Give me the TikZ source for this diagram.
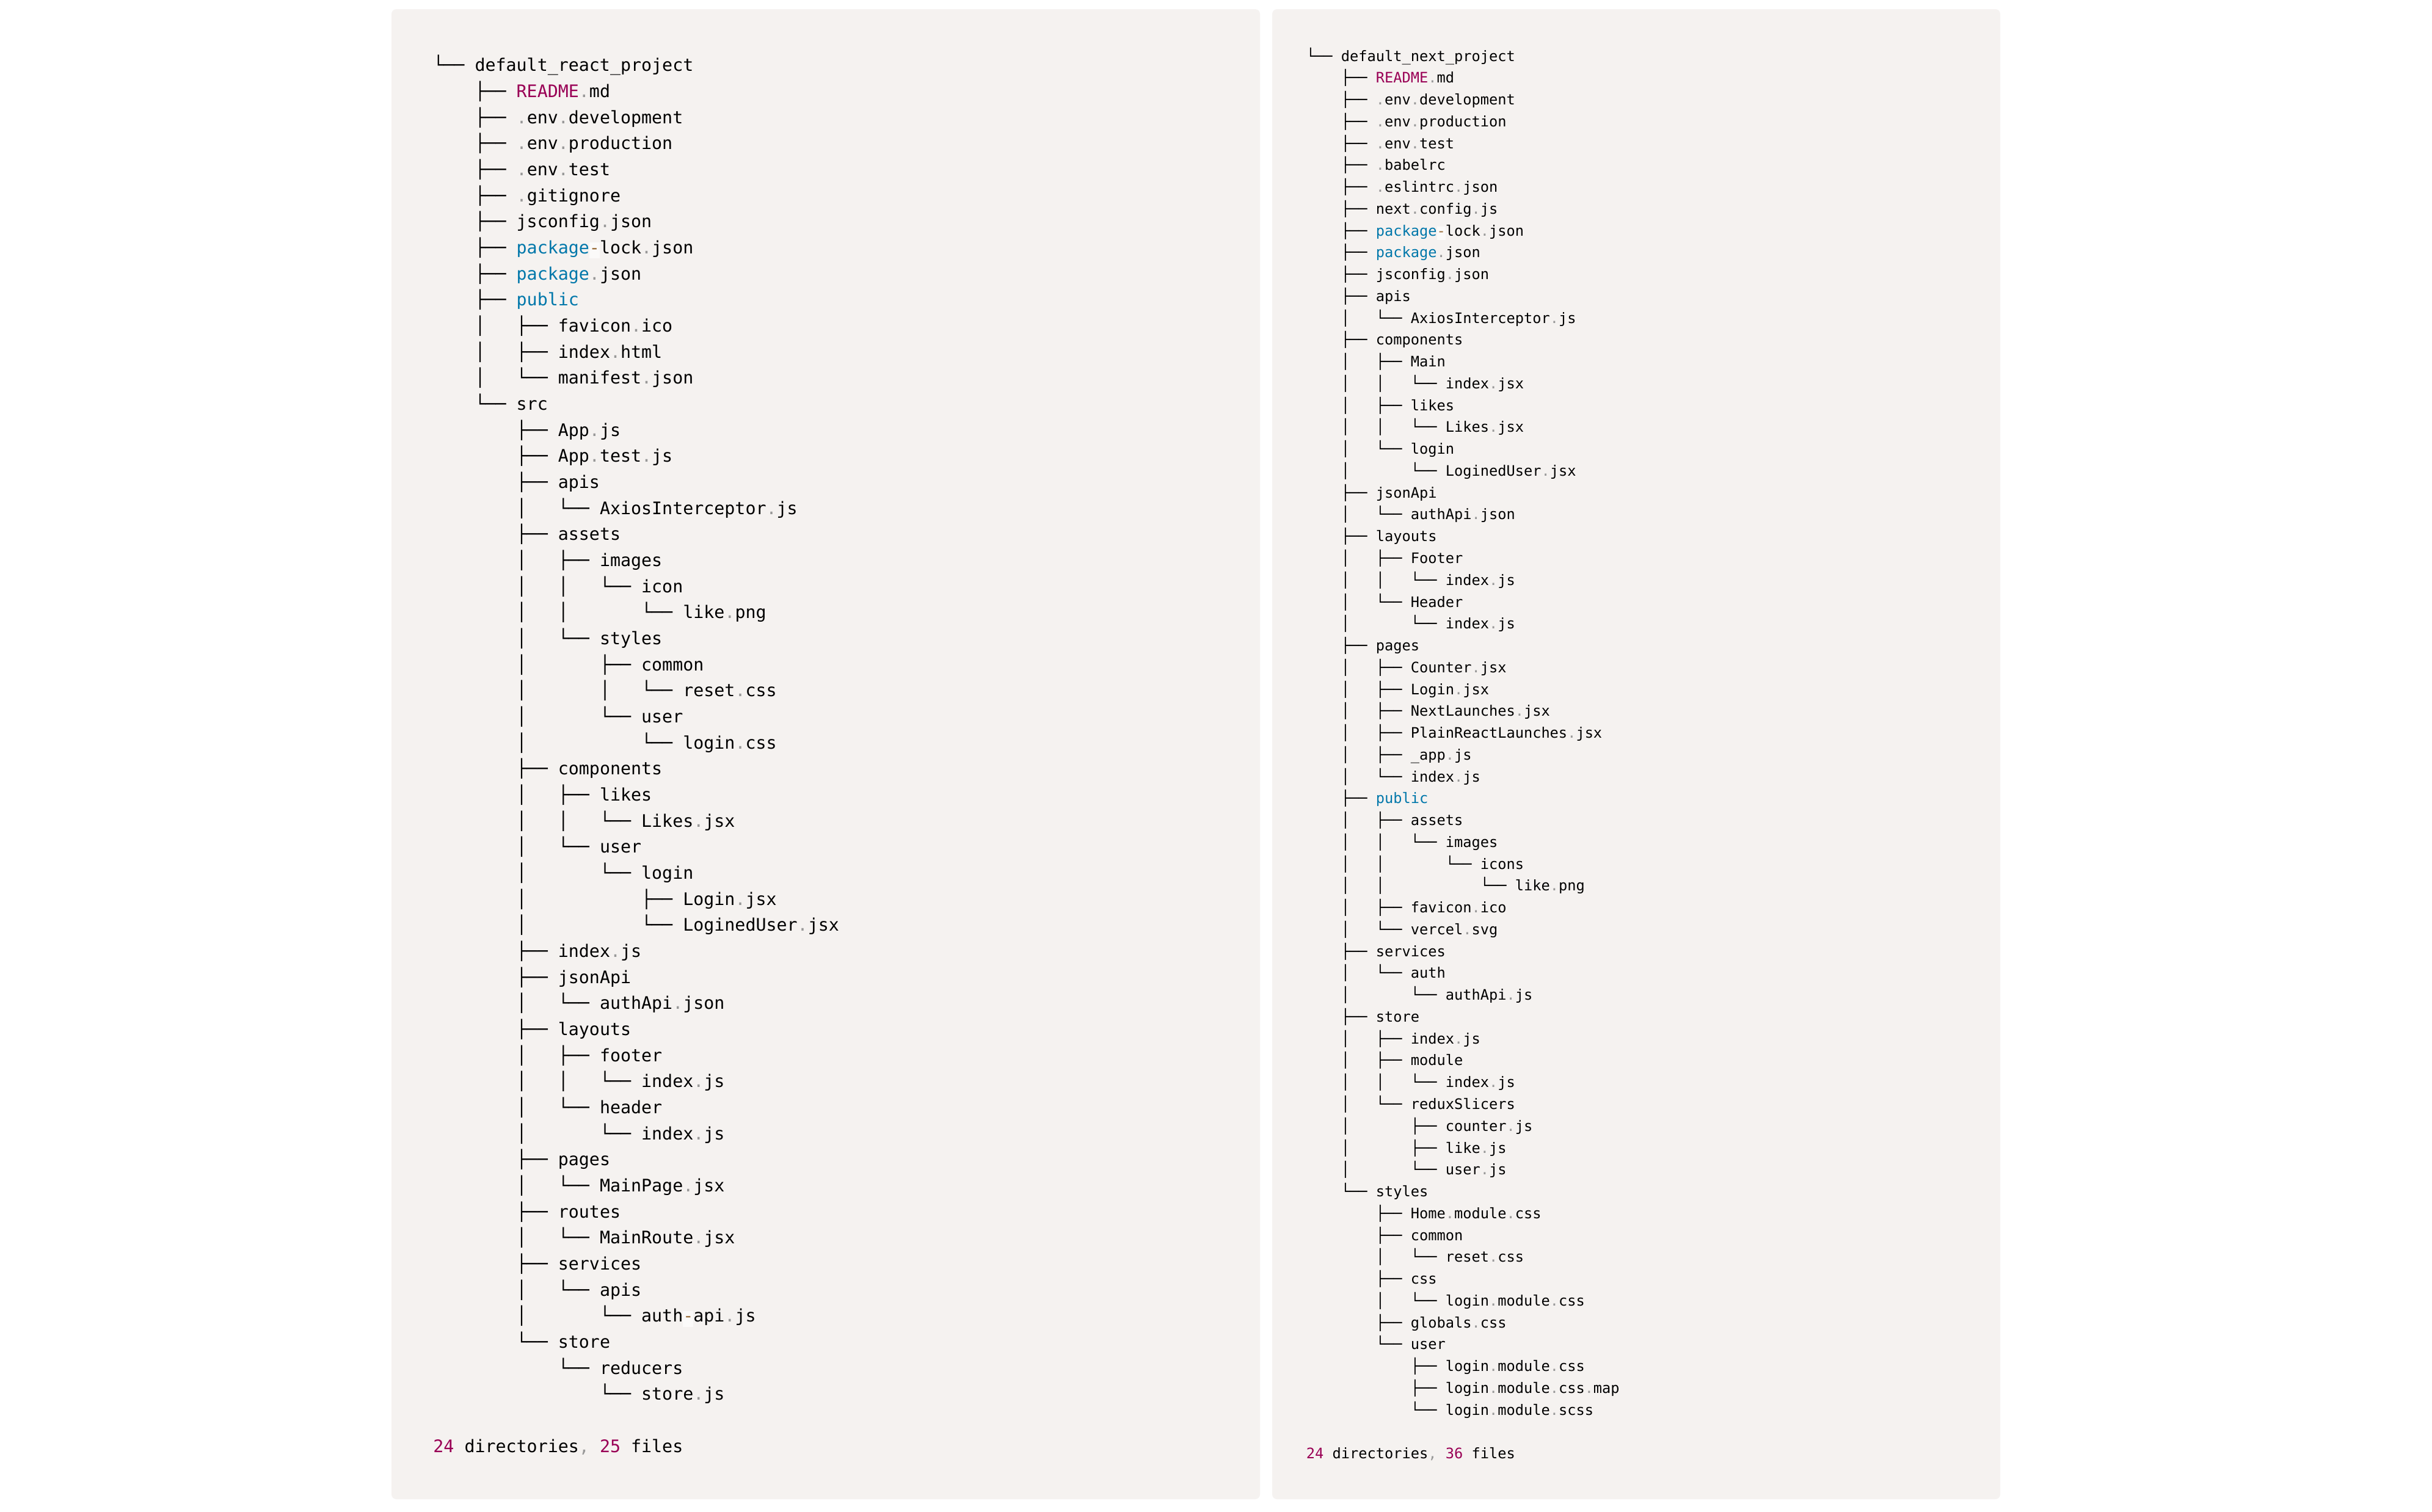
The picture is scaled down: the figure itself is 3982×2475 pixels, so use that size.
\documentclass[tikz,border=0pt]{standalone}
\usepackage{fontspec}
\usepackage{xcolor}
\newfontfamily\codefont{DejaVu Sans Mono}

% Prism-like palette
\definecolor{panelbg}{HTML}{F5F2F0}
\definecolor{punct}{HTML}{999999}
\definecolor{kwc}{HTML}{0077AA}
\definecolor{cnc}{HTML}{990055}
\definecolor{opc}{HTML}{9A6E3A}
\definecolor{opbg}{HTML}{FBFAF9}

% token helpers
\newcommand\dt{\textcolor{punct}{.}}
\newcommand\pc[1]{\textcolor{punct}{#1}}
\newcommand\kw[1]{\textcolor{kwc}{#1}}
\newcommand\cn[1]{\textcolor{cnc}{#1}}
\newcommand\op{{\setlength\fboxsep{0pt}\colorbox{opbg}{\rule[-0.28em]{0pt}{0.93em}\color{opc}-}}}

% one listing row per node: left listing (L) and right listing (R)
\newcommand\Lrow[2]{\node[lrow] (L#1) at (709,{116.7+42.67*#1}) {#2};}
\newcommand\Rrow[2]{\node[rrow] (R#1) at (2138.5,{100.0+35.76*#1}) {#2};}

\begin{document}
\begin{tikzpicture}[x=0.5pt,y=-0.5pt,
  lrow/.style={anchor=base west,inner sep=0pt,text=black,
    font=\codefont\fontsize{14.15pt}{17pt}\selectfont},
  rrow/.style={anchor=base west,inner sep=0pt,text=black,
    font=\codefont\fontsize{11.83pt}{14pt}\selectfont},
  panel/.style={fill=panelbg,rounded corners=4pt}]
\useasboundingbox (0,0) rectangle (3982,2475);
\fill[white] (0,0) rectangle (3982,2475);
\path[panel] (641,15) rectangle (2063,2455);
\path[panel] (2083,15) rectangle (3275,2455);

% ---- default_react_project ----
\Lrow{0}{└──~default\_react\_project}
\Lrow{1}{~~~~├──~\cn{README}\dt md}
\Lrow{2}{~~~~├──~\dt env\dt development}
\Lrow{3}{~~~~├──~\dt env\dt production}
\Lrow{4}{~~~~├──~\dt env\dt test}
\Lrow{5}{~~~~├──~\dt gitignore}
\Lrow{6}{~~~~├──~jsconfig\dt json}
\Lrow{7}{~~~~├──~\kw{package}\op lock\dt json}
\Lrow{8}{~~~~├──~\kw{package}\dt json}
\Lrow{9}{~~~~├──~\kw{public}}
\Lrow{10}{~~~~│~~~├──~favicon\dt ico}
\Lrow{11}{~~~~│~~~├──~index\dt html}
\Lrow{12}{~~~~│~~~└──~manifest\dt json}
\Lrow{13}{~~~~└──~src}
\Lrow{14}{~~~~~~~~├──~App\dt js}
\Lrow{15}{~~~~~~~~├──~App\dt test\dt js}
\Lrow{16}{~~~~~~~~├──~apis}
\Lrow{17}{~~~~~~~~│~~~└──~AxiosInterceptor\dt js}
\Lrow{18}{~~~~~~~~├──~assets}
\Lrow{19}{~~~~~~~~│~~~├──~images}
\Lrow{20}{~~~~~~~~│~~~│~~~└──~icon}
\Lrow{21}{~~~~~~~~│~~~│~~~~~~~└──~like\dt png}
\Lrow{22}{~~~~~~~~│~~~└──~styles}
\Lrow{23}{~~~~~~~~│~~~~~~~├──~common}
\Lrow{24}{~~~~~~~~│~~~~~~~│~~~└──~reset\dt css}
\Lrow{25}{~~~~~~~~│~~~~~~~└──~user}
\Lrow{26}{~~~~~~~~│~~~~~~~~~~~└──~login\dt css}
\Lrow{27}{~~~~~~~~├──~components}
\Lrow{28}{~~~~~~~~│~~~├──~likes}
\Lrow{29}{~~~~~~~~│~~~│~~~└──~Likes\dt jsx}
\Lrow{30}{~~~~~~~~│~~~└──~user}
\Lrow{31}{~~~~~~~~│~~~~~~~└──~login}
\Lrow{32}{~~~~~~~~│~~~~~~~~~~~├──~Login\dt jsx}
\Lrow{33}{~~~~~~~~│~~~~~~~~~~~└──~LoginedUser\dt jsx}
\Lrow{34}{~~~~~~~~├──~index\dt js}
\Lrow{35}{~~~~~~~~├──~jsonApi}
\Lrow{36}{~~~~~~~~│~~~└──~authApi\dt json}
\Lrow{37}{~~~~~~~~├──~layouts}
\Lrow{38}{~~~~~~~~│~~~├──~footer}
\Lrow{39}{~~~~~~~~│~~~│~~~└──~index\dt js}
\Lrow{40}{~~~~~~~~│~~~└──~header}
\Lrow{41}{~~~~~~~~│~~~~~~~└──~index\dt js}
\Lrow{42}{~~~~~~~~├──~pages}
\Lrow{43}{~~~~~~~~│~~~└──~MainPage\dt jsx}
\Lrow{44}{~~~~~~~~├──~routes}
\Lrow{45}{~~~~~~~~│~~~└──~MainRoute\dt jsx}
\Lrow{46}{~~~~~~~~├──~services}
\Lrow{47}{~~~~~~~~│~~~└──~apis}
\Lrow{48}{~~~~~~~~│~~~~~~~└──~auth\op api\dt js}
\Lrow{49}{~~~~~~~~└──~store}
\Lrow{50}{~~~~~~~~~~~~└──~reducers}
\Lrow{51}{~~~~~~~~~~~~~~~~└──~store\dt js}
\Lrow{53}{\cn{24}~directories\pc{,}~\cn{25}~files}

% ---- default_next_project ----
\Rrow{0}{└──~default\_next\_project}
\Rrow{1}{~~~~├──~\cn{README}\dt md}
\Rrow{2}{~~~~├──~\dt env\dt development}
\Rrow{3}{~~~~├──~\dt env\dt production}
\Rrow{4}{~~~~├──~\dt env\dt test}
\Rrow{5}{~~~~├──~\dt babelrc}
\Rrow{6}{~~~~├──~\dt eslintrc\dt json}
\Rrow{7}{~~~~├──~next\dt config\dt js}
\Rrow{8}{~~~~├──~\kw{package}\op lock\dt json}
\Rrow{9}{~~~~├──~\kw{package}\dt json}
\Rrow{10}{~~~~├──~jsconfig\dt json}
\Rrow{11}{~~~~├──~apis}
\Rrow{12}{~~~~│~~~└──~AxiosInterceptor\dt js}
\Rrow{13}{~~~~├──~components}
\Rrow{14}{~~~~│~~~├──~Main}
\Rrow{15}{~~~~│~~~│~~~└──~index\dt jsx}
\Rrow{16}{~~~~│~~~├──~likes}
\Rrow{17}{~~~~│~~~│~~~└──~Likes\dt jsx}
\Rrow{18}{~~~~│~~~└──~login}
\Rrow{19}{~~~~│~~~~~~~└──~LoginedUser\dt jsx}
\Rrow{20}{~~~~├──~jsonApi}
\Rrow{21}{~~~~│~~~└──~authApi\dt json}
\Rrow{22}{~~~~├──~layouts}
\Rrow{23}{~~~~│~~~├──~Footer}
\Rrow{24}{~~~~│~~~│~~~└──~index\dt js}
\Rrow{25}{~~~~│~~~└──~Header}
\Rrow{26}{~~~~│~~~~~~~└──~index\dt js}
\Rrow{27}{~~~~├──~pages}
\Rrow{28}{~~~~│~~~├──~Counter\dt jsx}
\Rrow{29}{~~~~│~~~├──~Login\dt jsx}
\Rrow{30}{~~~~│~~~├──~NextLaunches\dt jsx}
\Rrow{31}{~~~~│~~~├──~PlainReactLaunches\dt jsx}
\Rrow{32}{~~~~│~~~├──~\_app\dt js}
\Rrow{33}{~~~~│~~~└──~index\dt js}
\Rrow{34}{~~~~├──~\kw{public}}
\Rrow{35}{~~~~│~~~├──~assets}
\Rrow{36}{~~~~│~~~│~~~└──~images}
\Rrow{37}{~~~~│~~~│~~~~~~~└──~icons}
\Rrow{38}{~~~~│~~~│~~~~~~~~~~~└──~like\dt png}
\Rrow{39}{~~~~│~~~├──~favicon\dt ico}
\Rrow{40}{~~~~│~~~└──~vercel\dt svg}
\Rrow{41}{~~~~├──~services}
\Rrow{42}{~~~~│~~~└──~auth}
\Rrow{43}{~~~~│~~~~~~~└──~authApi\dt js}
\Rrow{44}{~~~~├──~store}
\Rrow{45}{~~~~│~~~├──~index\dt js}
\Rrow{46}{~~~~│~~~├──~module}
\Rrow{47}{~~~~│~~~│~~~└──~index\dt js}
\Rrow{48}{~~~~│~~~└──~reduxSlicers}
\Rrow{49}{~~~~│~~~~~~~├──~counter\dt js}
\Rrow{50}{~~~~│~~~~~~~├──~like\dt js}
\Rrow{51}{~~~~│~~~~~~~└──~user\dt js}
\Rrow{52}{~~~~└──~styles}
\Rrow{53}{~~~~~~~~├──~Home\dt module\dt css}
\Rrow{54}{~~~~~~~~├──~common}
\Rrow{55}{~~~~~~~~│~~~└──~reset\dt css}
\Rrow{56}{~~~~~~~~├──~css}
\Rrow{57}{~~~~~~~~│~~~└──~login\dt module\dt css}
\Rrow{58}{~~~~~~~~├──~globals\dt css}
\Rrow{59}{~~~~~~~~└──~user}
\Rrow{60}{~~~~~~~~~~~~├──~login\dt module\dt css}
\Rrow{61}{~~~~~~~~~~~~├──~login\dt module\dt css\dt map}
\Rrow{62}{~~~~~~~~~~~~└──~login\dt module\dt scss}
\Rrow{64}{\cn{24}~directories\pc{,}~\cn{36}~files}
\end{tikzpicture}
\end{document}
